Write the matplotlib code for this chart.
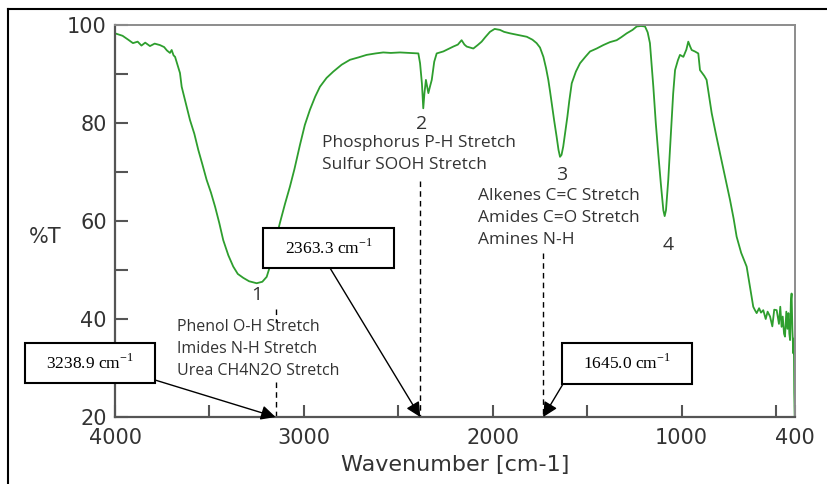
import matplotlib
matplotlib.use("Agg")
import matplotlib.pyplot as plt
from matplotlib.lines import Line2D
from matplotlib.patches import Rectangle

plt.rcParams['mathtext.fontset'] = 'custom'
plt.rcParams['mathtext.rm'] = 'Liberation Serif'

# IR spectrum (wavenumber, %T)
wavenumber = [4000, 3960, 3930, 3905, 3880, 3860, 3840, 3815, 3790, 3762, 3740, 3725,
              3709, 3700, 3690, 3682, 3670, 3656, 3647, 3625, 3603, 3580, 3559, 3537,
              3515, 3492, 3470, 3448, 3427, 3400, 3374, 3350, 3321, 3290, 3250, 3220,
              3197, 3180, 3160, 3140, 3127, 3100, 3074, 3050, 3021, 2995, 2968, 2940,
              2915, 2880, 2844, 2800, 2756, 2710, 2668, 2620, 2580, 2540, 2491, 2440,
              2394, 2385, 2375, 2368, 2362, 2354, 2341, 2332, 2323, 2310, 2297, 2262,
              2230, 2209, 2185, 2165, 2150, 2138, 2103, 2080, 2059, 2040, 2015, 1990,
              1962, 1940, 1909, 1870, 1820, 1790, 1768, 1750, 1732, 1718, 1706, 1697,
              1688, 1675, 1662, 1652, 1644, 1636, 1627, 1615, 1605, 1595, 1582, 1560,
              1538, 1510, 1485, 1450, 1415, 1380, 1344, 1320, 1291, 1260, 1238, 1215,
              1194, 1180, 1168, 1150, 1137, 1124, 1110, 1097, 1090, 1083, 1071, 1062,
              1053, 1045, 1035, 1020, 1009, 991, 975, 965, 955, 947, 930, 912,
              903, 880, 868, 855, 841, 820, 797, 770, 744, 725, 709, 685,
              656, 640, 621, 612, 603, 590, 580, 568, 555, 545, 532, 520,
              510, 497, 485, 478, 471, 465, 458, 453, 446, 440, 435, 430,
              426, 422, 418, 414, 409, 406, 404, 401]
transmittance = [98.3, 97.8, 97.0, 96.3, 96.6, 95.8, 96.4, 95.7, 96.2, 95.9, 95.5, 94.8,
                 94.3, 94.9, 93.8, 93.5, 92.0, 90.2, 87.4, 84.0, 80.6, 77.8, 74.5, 71.5,
                 68.4, 65.8, 62.9, 59.6, 56.1, 53.0, 50.7, 49.2, 48.4, 47.7, 47.3, 47.6,
                 48.6, 50.7, 54.5, 57.6, 59.6, 63.5, 67.0, 70.6, 75.5, 79.6, 82.7, 85.4,
                 87.4, 89.2, 90.5, 91.9, 92.9, 93.4, 93.9, 94.2, 94.4, 94.3, 94.4, 94.3,
                 94.2, 92.2, 88.0, 83.0, 86.0, 88.8, 86.1, 87.5, 88.8, 92.5, 94.2, 94.6,
                 95.2, 95.6, 96.0, 96.9, 96.0, 95.6, 95.2, 95.9, 96.6, 97.5, 98.6, 99.2,
                 99.0, 98.6, 98.3, 98.0, 97.6, 97.0, 96.3, 95.4, 93.5, 91.2, 88.8, 86.5,
                 84.0, 80.5, 77.2, 74.5, 73.1, 73.5, 75.2, 78.5, 81.3, 84.5, 88.1, 90.5,
                 92.2, 93.5, 94.6, 95.2, 95.9, 96.5, 96.9, 97.5, 98.3, 99.0, 99.7, 99.8,
                 99.7, 98.5, 96.3, 87.4, 80.0, 73.8, 67.5, 62.2, 61.0, 62.2, 68.4, 74.5,
                 80.6, 86.0, 90.8, 92.8, 93.9, 93.5, 95.0, 96.6, 95.6, 94.9, 94.6, 94.2,
                 90.8, 89.6, 88.8, 85.5, 82.0, 78.0, 73.8, 69.0, 64.3, 60.5, 56.8, 53.5,
                 50.7, 47.0, 42.5, 41.8, 41.2, 42.2, 41.3, 41.8, 40.0, 41.5, 40.5, 38.5,
                 41.9, 41.8, 39.0, 42.5, 38.4, 40.5, 37.0, 36.4, 41.5, 38.0, 41.2, 37.0,
                 35.7, 43.5, 45.2, 38.0, 33.0, 36.0, 25.0, 19.0]

# peak numbers
peak_labels = ["1", "2", "3", "4"]
peak_wn = [3248, 2375, 1635, 1072]
peak_t = [44.9, 79.8, 69.4, 55.1]

# group descriptions
group_text = [
    ["Phenol O-H Stretch", "Imides N-H Stretch", "Urea CH4N2O Stretch"],
    ["Phosphorus P-H Stretch", "Sulfur SOOH Stretch"],
    ["Alkenes C=C Stretch", "Amides C=O Stretch", "Amines N-H"],
]
group_wn = [3672, 2904, 2078]
group_top = [38.4, 75.9, 65.1]
group_size = [11.5, 12.5, 12.5]

# dashed markers and boxed values
marker_wn = [3150, 2384, 1733]
marker_top = [42.0, 68.2, 53.5]
box_values = ["3238.9", "2363.3", "1645.0"]

fig = plt.figure(figsize=(8.27, 4.84), dpi=100)
ax = fig.add_axes([115 / 827, 1 - 417 / 484, 680 / 827, 392 / 484])

ax.plot(wavenumber, transmittance, color="#2e9e2e", lw=1.3)
ax.set_xlim(4000, 400)
ax.set_ylim(20, 100)

ax.set_xticks([4000, 3000, 2000, 1000, 400])
ax.set_xticks([3500, 2500, 1500, 500], minor=True)
ax.set_yticks([20, 40, 60, 80, 100])
ax.set_yticks([30, 50, 70, 90], minor=True)
ax.tick_params(which="both", direction="in", length=9, width=1.5, color="#555555",
               labelsize=15, labelcolor="#333333")
ax.tick_params(axis="x", pad=8)
ax.tick_params(axis="y", pad=6)
for s in ["left", "bottom"]:
    ax.spines[s].set_color("#555555")
    ax.spines[s].set_linewidth(1.6)
for s in ["top", "right"]:
    ax.spines[s].set_color("#8c8c8c")
    ax.spines[s].set_linewidth(1.4)

ax.set_xlabel("Wavenumber [cm-1]", fontsize=16, color="#333333", labelpad=5)
fig.text(45 / 827, 1 - 237 / 484, "%T", fontsize=15, color="#333333", ha="center", va="center")

# peak numbers
for lab, x, y in zip(peak_labels, peak_wn, peak_t):
    ax.text(x, y, lab, fontsize=14, family="Open Sans", color="#333333", ha="center", va="center")

# descriptions
for lines, x, y, fs in zip(group_text, group_wn, group_top, group_size):
    for i, line in enumerate(lines):
        ax.text(x, y - i * 4.5, line, fontsize=fs, family="Open Sans", color="#333333",
                ha="left", va="center")

# dashed lines (first one broken by the text)
dash = dict(color="black", lw=1, ls=(0, (4, 3)))
ax.plot([marker_wn[0], marker_wn[0]], [marker_top[0], 39.4], **dash)
ax.plot([marker_wn[0], marker_wn[0]], [27.1, 20], **dash)
ax.plot([marker_wn[1], marker_wn[1]], [marker_top[1], 20], **dash)
ax.plot([marker_wn[2], marker_wn[2]], [marker_top[2], 20], **dash)

# boxes in figure pixels: left, top, width, height, arrow start
boxes = [(25, 343, 130, 40, (155, 380)),
         (263, 228, 131, 40, (330, 268)),
         (562, 343, 130, 41, (563, 384))]
for val, (bx, by, bw, bh, start), wn in zip(box_values, boxes, marker_wn):
    fig.patches.append(Rectangle((bx / 827, 1 - (by + bh) / 484), bw / 827, bh / 484,
                                 transform=fig.transFigure, fill=True, facecolor="white",
                                 edgecolor="black", lw=1.5, zorder=5))
    fig.text((bx + bw / 2) / 827, 1 - (by + bh / 2) / 484, val + r" cm$^{\mathrm{-1}}$",
             family="Liberation Serif", fontsize=12.5, ha="center", va="center", zorder=6)
    ax.annotate("", xy=(wn, 20), xycoords="data",
                xytext=(start[0] / 827, 1 - start[1] / 484), textcoords="figure fraction",
                arrowprops=dict(arrowstyle="-|>", color="black", lw=1, mutation_scale=22,
                                shrinkA=0, shrinkB=0),
                annotation_clip=False)

# outer frame
fig.add_artist(Line2D([8 / 827, 1], [1 - 9 / 484, 1 - 9 / 484], color="black", lw=1.5,
                      transform=fig.transFigure))
fig.add_artist(Line2D([8 / 827, 8 / 827], [0, 1 - 9 / 484], color="black", lw=1.5,
                      transform=fig.transFigure))

plt.savefig("out.png", dpi=100)
